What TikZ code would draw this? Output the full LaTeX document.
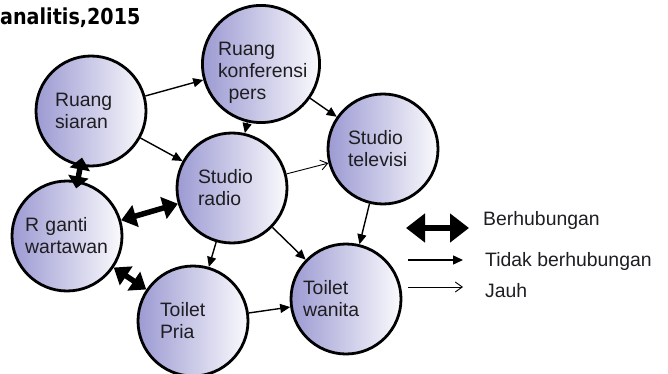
\documentclass[tikz,border=0pt]{standalone}
\usepackage{fontspec}
\setmainfont{Liberation Sans}
\newfontfamily\headfont[FakeStretch=0.87]{DejaVu Sans}
\usepackage{xcolor}
\definecolor{roomleft}{RGB}{156,154,210}
\definecolor{roommid}{RGB}{210,209,234}
\definecolor{roomright}{RGB}{250,250,253}
\definecolor{roomtext}{RGB}{30,30,34}
\usepackage{tikz}
\usetikzlibrary{arrows.meta}

\begin{document}
\begin{tikzpicture}[x=1pt, y=-1pt,
  every node/.style={font=\fontsize{19.4}{22}\selectfont},
  room/.style={circle, draw=black, line width=2.8pt, minimum size=110pt, inner sep=0pt,
    left color=roomleft, middle color=roommid, right color=roomright, text=roomtext, align=left, text width=#1},
  room/.default=72pt,
  linked/.style={line width=5.5pt, {Triangle[length=15pt,width=22pt]}-{Triangle[length=15pt,width=22pt]}},
  flow/.style={line width=1.4pt, -{Triangle[length=10pt,width=9pt]}},
  far/.style={line width=0.9pt, -{Straight Barb[length=7pt,width=10pt]}}]
  \useasboundingbox (0,0) rectangle (668,374);

  \node[anchor=base west, inner sep=0pt, font=\headfont\bfseries\fontsize{22}{24}\selectfont] (head) at (0,25) {analitis,2015};

  % rooms
  \node[room] (siaran) at (91,111) {Ruang\\siaran};
  \node[room=86pt] (konf) at (261,64) {\rule{0pt}{32pt}Ruang\\konferensi\\\hspace*{0.55em}pers};
  \node[room=70pt] (tv) at (383,149) {Studio\\televisi};
  \node[room=68pt] (radio) at (232,188) {Studio\\radio};
  \node[room=84pt] (ganti) at (67,236) {R ganti\\wartawan};
  \node[room=66pt] (pria) at (193,321) {Toilet\\Pria};
  \node[room=86pt] (wanita) at (346,299) {Toilet\\wanita};

  % connections
  \draw[linked, shorten <=-9pt, shorten >=-8pt, {Triangle[length=12pt,width=20pt]}-{Triangle[length=12pt,width=20pt]}] (siaran) -- (ganti);
  \draw[linked] (ganti) -- (radio);
  \draw[linked] (ganti) -- (pria);
  \foreach \a/\b in {siaran/konf, siaran/radio, konf/radio, konf/tv, radio/wanita, radio/pria, tv/wanita, pria/wanita}
    \draw[flow] (\a) -- (\b);
  \draw[far] (radio) -- (tv);

  % legend
  \coordinate (k1a) at (406,228);
  \coordinate (k1b) at (469,228);
  \coordinate (k2a) at (408,260);
  \coordinate (k2b) at (463,260);
  \coordinate (k3a) at (408,287);
  \coordinate (k3b) at (463,287);
  \draw[line width=6.5pt, {Triangle[length=19pt,width=28pt]}-{Triangle[length=19pt,width=28pt]}] (k1a) -- (k1b);
  \draw[flow] (k2a) -- (k2b);
  \draw[far] (k3a) -- (k3b);
  \node[anchor=base west, inner sep=0pt, text=roomtext] (k1) at (483,225) {Berhubungan};
  \node[anchor=base west, inner sep=0pt, text=roomtext] (k2) at (485,266) {Tidak berhubungan};
  \node[anchor=base west, inner sep=0pt, text=roomtext] (k3) at (485,297) {Jauh};
\end{tikzpicture}
\end{document}
